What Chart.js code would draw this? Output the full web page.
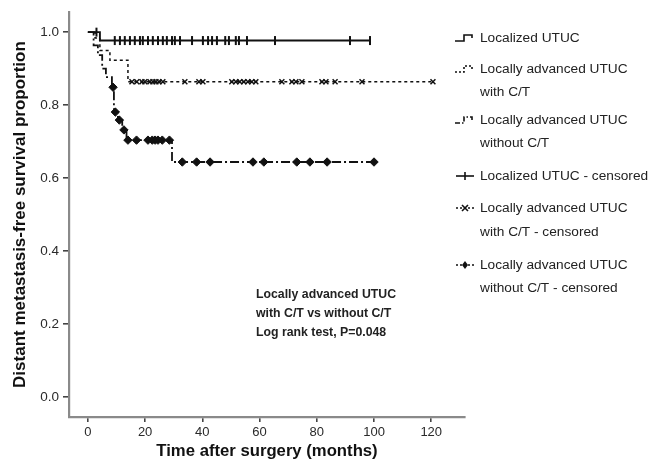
<!DOCTYPE html>
<html>
<head>
<meta charset="utf-8">
<script src="https://cdn.jsdelivr.net/npm/chart.js@4"></script>
<style>
  body { margin: 0; background: #fff; }
  canvas { display: block; }
</style>
</head>
<body>
<canvas id="kmChart" width="665" height="464"></canvas>
<script>
// survival curves: time of each step (months) and proportion after it
const locTimes = [0, 4.2, 98.6];
const locSurv = [1, 0.977, 0.977];
const withTimes = [0, 2.5, 4.2, 7.7, 14, 120.6];
const withSurv = [1, 0.984, 0.95, 0.923, 0.864, 0.864];
const woTimes = [0, 2, 3.5, 5, 6.3, 8.4, 9.1, 10.5, 12, 13.5, 29.4, 100];
const woSurv = [1, 0.964, 0.937, 0.9, 0.877, 0.849, 0.781, 0.759, 0.732, 0.704, 0.644, 0.644];

// censored times
const locCens = [3, 9.4, 11.2, 12.9, 14.7, 16.4, 18.2, 19.2, 21, 22.7, 24.5, 26.2, 27.6, 29.4, 30.4, 32.2, 36.4, 40.2, 42, 43.4, 45.1, 48, 49.3, 51.7, 52.8, 55.6, 65.4, 91.6, 98.6];
const withCens = [15.4, 17.1, 18.9, 19.9, 21.7, 22.7, 23.8, 24.8, 26.2, 33.9, 38.8, 40.2, 50.3, 51.7, 53.1, 54.5, 55.9, 57.3, 58.7, 67.8, 71.3, 72.7, 74.8, 81.8, 83.2, 86.4, 95.8, 120.6];
const woCens = [8.8, 9.6, 11, 12.6, 14, 17, 21, 22.5, 23.5, 24.5, 26, 28.5, 33, 38, 42.7, 57.7, 61.5, 73, 77.6, 83.6, 100];

const xTicks = [0, 20, 40, 60, 80, 100, 120];
const yTicks = [0, 0.2, 0.4, 0.6, 0.8, 1.0];

const legendRows = [
    { kind: 'loc', lines: ['Localized UTUC'] },
    { kind: 'with', lines: ['Locally advanced UTUC', 'with C/T'] },
    { kind: 'wo', lines: ['Locally advanced UTUC', 'without C/T'] },
    { kind: 'locC', lines: ['Localized UTUC - censored'] },
    { kind: 'withC', lines: ['Locally advanced UTUC', 'with C/T - censored'] },
    { kind: 'woC', lines: ['Locally advanced UTUC', 'without C/T - censored'] }
];
const noteLines = ['Locally advanced UTUC', 'with C/T vs without C/T', 'Log rank test, P=0.048'];

function survAt(times, surv, t) {
    let s = surv[0];
    for (let i = 0; i < times.length; i++) {
        if (times[i] <= t) s = surv[i];
    }
    return s;
}
function curve(times, surv) {
    return times.map((t, i) => ({ x: t, y: surv[i] }));
}
function censored(cens, times, surv) {
    return cens.map(t => ({ x: t, y: survAt(times, surv, t) }));
}

const INK = '#111';
const FONT = '"Liberation Sans", Arial, sans-serif';
const DASH_WITH = [3, 3];
const DASH_WO = [9, 3, 2, 3];

// legend + note text drawn on the canvas
const extrasPlugin = {
    id: 'extras',
    afterDraw(chart) {
        const ctx = chart.ctx;
        ctx.save();
        ctx.fillStyle = '#222';
        ctx.font = '13.7px ' + FONT;
        ctx.textBaseline = 'middle';
        const rowY = [[38], [69, 92], [120, 143], [176], [208, 232], [265, 288]];
        legendRows.forEach((row, i) => {
            row.lines.forEach((txt, j) => ctx.fillText(txt, 480, rowY[i][j]));
            const y = rowY[i][0];
            ctx.strokeStyle = INK;
            ctx.fillStyle = INK;
            ctx.lineWidth = 1.6;
            if (row.kind === 'loc' || row.kind === 'with' || row.kind === 'wo') {
                ctx.setLineDash(row.kind === 'loc' ? [] : row.kind === 'with' ? [2, 2] : [5, 2, 1.5, 2]);
                ctx.beginPath();
                ctx.moveTo(455, y + 3);
                ctx.lineTo(464, y + 3);
                ctx.lineTo(464, y - 3);
                ctx.lineTo(472, y - 3);
                ctx.lineTo(472, y);
                ctx.stroke();
            } else {
                ctx.setLineDash(row.kind === 'locC' ? [] : [2, 2]);
                ctx.beginPath();
                ctx.moveTo(456, y);
                ctx.lineTo(474, y);
                ctx.stroke();
                ctx.setLineDash([]);
                ctx.beginPath();
                if (row.kind === 'locC') {
                    ctx.moveTo(465, y - 4);
                    ctx.lineTo(465, y + 4);
                    ctx.stroke();
                } else if (row.kind === 'withC') {
                    ctx.moveTo(462, y - 3); ctx.lineTo(468, y + 3);
                    ctx.moveTo(468, y - 3); ctx.lineTo(462, y + 3);
                    ctx.stroke();
                } else {
                    ctx.moveTo(465, y - 4); ctx.lineTo(468, y);
                    ctx.lineTo(465, y + 4); ctx.lineTo(462, y);
                    ctx.closePath();
                    ctx.fill();
                }
            }
            ctx.fillStyle = '#222';
        });
        ctx.setLineDash([]);
        ctx.font = 'bold 12.3px ' + FONT;
        noteLines.forEach((txt, i) => ctx.fillText(txt, 256, 295 + i * 19));
        ctx.restore();
    }
};

const ctx = document.getElementById('kmChart').getContext('2d');
new Chart(ctx, {
    type: 'line',
    data: {
        datasets: [
            { data: curve(locTimes, locSurv), borderColor: INK, borderWidth: 1.9, stepped: 'before', pointRadius: 0 },
            { data: curve(withTimes, withSurv), borderColor: INK, borderWidth: 1.5, borderDash: DASH_WITH, stepped: 'before', pointRadius: 0 },
            { data: curve(woTimes, woSurv), borderColor: INK, borderWidth: 1.8, borderDash: DASH_WO, stepped: 'before', pointRadius: 0 },
            { type: 'scatter', data: censored(locCens, locTimes, locSurv), showLine: false,
              pointStyle: 'line', rotation: 90, pointRadius: 4.5, borderColor: INK, borderWidth: 2 },
            { type: 'scatter', data: censored(withCens, withTimes, withSurv), showLine: false,
              pointStyle: 'crossRot', pointRadius: 3.5, borderColor: INK, borderWidth: 1.5 },
            { type: 'scatter', data: censored(woCens, woTimes, woSurv), showLine: false,
              pointStyle: 'rectRot', pointRadius: 4.2, backgroundColor: INK, borderColor: INK, borderWidth: 1 }
        ]
    },
    options: {
        responsive: false,
        animation: false,
        layout: { padding: { top: 12, right: 200, left: 0, bottom: 0 } },
        plugins: { legend: { display: false }, tooltip: { enabled: false } },
        scales: {
            x: {
                type: 'linear',
                min: -6.6,
                max: 131.8,
                afterBuildTicks: s => { s.ticks = xTicks.map(v => ({ value: v })); },
                afterFit: s => { s.height = 47; },
                border: { color: '#8a8a8a', width: 2.2 },
                grid: { drawOnChartArea: false, tickLength: 5, color: '#444', lineWidth: 1.6 },
                ticks: { color: '#2a2a2a', padding: 3, font: { family: FONT, size: 13 } },
                title: { display: true, text: 'Time after surgery (months)', color: '#111',
                         padding: { top: 0, bottom: 3 },
                         font: { family: FONT, size: 16.7, weight: 'bold' } }
            },
            y: {
                min: -0.055,
                max: 1.055,
                afterBuildTicks: s => { s.ticks = yTicks.map(v => ({ value: v })); },
                afterFit: s => { s.width = 69; },
                border: { color: '#8a8a8a', width: 2.2 },
                grid: { drawOnChartArea: false, tickLength: 6, color: '#444', lineWidth: 1.6 },
                ticks: { color: '#2a2a2a', padding: 4, callback: v => v.toFixed(1),
                         font: { family: FONT, size: 13.5 } },
                title: { display: true, text: 'Distant metastasis-free survival proportion', color: '#111',
                         padding: { top: 10, bottom: 0 },
                         font: { family: FONT, size: 17, weight: 'bold' } }
            }
        }
    },
    plugins: [extrasPlugin]
});
</script>
</body>
</html>
